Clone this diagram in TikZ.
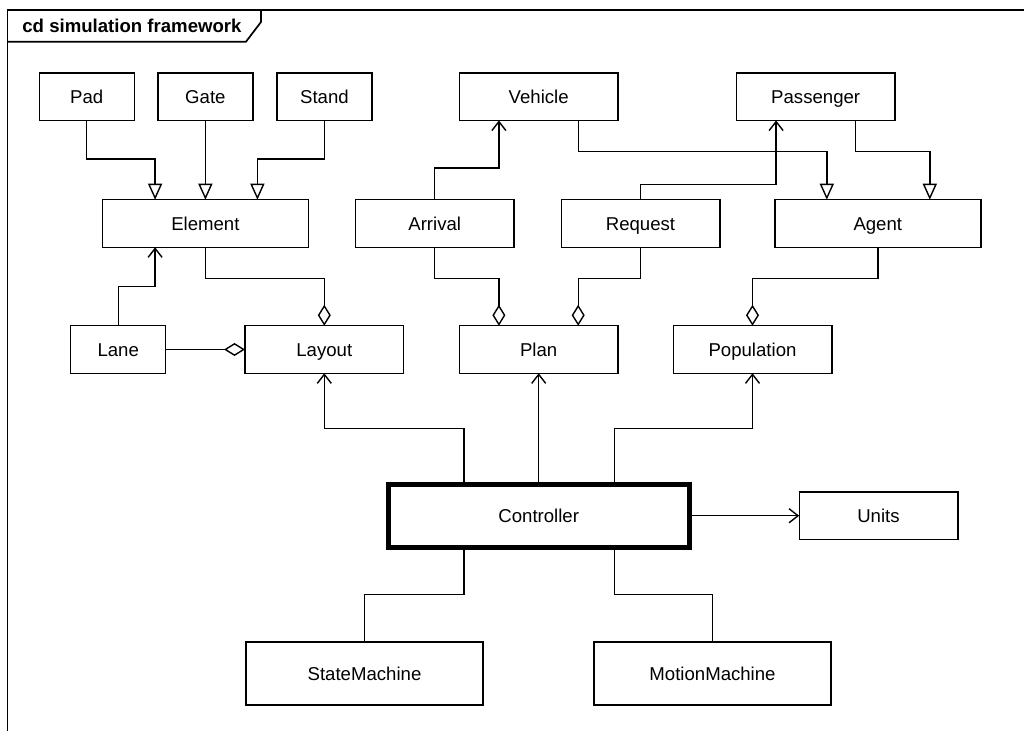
\documentclass[tikz,border=0pt]{standalone}
\usepackage{fontspec}
\setmainfont{Liberation Sans}
\usetikzlibrary{arrows.meta,positioning}

\begin{document}
\begin{tikzpicture}[x=0.5pt, y=-0.5pt,
  cls/.style={draw, line width=0.7pt, minimum height=23.75pt, minimum width=79.3pt, inner sep=0pt, outer sep=0pt,
    text height=6.7pt, text depth=0pt, font=\fontsize{9.3}{11}\selectfont},
  narrowcls/.style={cls, minimum width=47.5pt},
  widecls/.style={cls, minimum width=103pt},
  tallcls/.style={cls, minimum width=118.5pt, minimum height=31.65pt},
  ctrl/.style={cls, line width=2.5pt, minimum width=150.5pt, minimum height=31.5pt},
  gen/.style={line width=0.7pt, -{Triangle[length=8pt, width=7pt, fill=white]}},
  nav/.style={line width=0.7pt, -{Straight Barb[length=4.5pt, width=7pt]}},
  agg/.style={line width=0.7pt, -{Diamond[length=10.5pt, width=6.5pt, fill=white]}},
  link/.style={line width=0.7pt}
]
  \useasboundingbox (0,0) rectangle (1024,731);

  % diagram frame with its name tab
  \draw[line width=0.85pt] (7.5,731) -- (7.5,9.7) -- (1024,9.7);
  \draw[line width=0.85pt] (7.5,41.7) -- (246,41.7) -- (261,22) -- (261,9.7);
  \node[anchor=west, inner sep=0pt, font=\fontsize{9.3}{11}\selectfont\bfseries] (title) at (22,25.5) {cd simulation framework};

  % top row
  \node[narrowcls] (pad) at (86.7,96.7) {Pad};
  \node[narrowcls, right=11.85pt of pad] (gate) {Gate};
  \node[narrowcls, right=12pt of gate] (stand) {Stand};
  \node[cls, right=43.75pt of stand] (vehicle) {Vehicle};
  \node[cls, right=59.2pt of vehicle] (passenger) {Passenger};

  % second row
  \node[widecls, below=39.65pt of gate] (element) {Element};
  \node[cls, right=23.5pt of element] (arrival) {Arrival};
  \node[cls, right=23.6pt of arrival] (request) {Request};
  \node[widecls, right=27.5pt of request] (agent) {Agent};

  % third row, centred on Plan
  \node[cls, below=102.65pt of vehicle] (plan) {Plan};
  \node[cls, left=27.9pt of plan] (layout) {Layout};
  \node[narrowcls, left=39.65pt of layout] (lane) {Lane};
  \node[cls, right=27.6pt of plan] (population) {Population};

  % controller and what it uses
  \node[ctrl, below=55.5pt of plan] (controller) {Controller};
  \node[cls, right=55pt of controller] (units) {Units};
  \node[tallcls, below=47.3pt of controller, xshift=-87.1pt] (statemachine) {StateMachine};
  \node[tallcls, right=55.5pt of statemachine] (motionmachine) {MotionMachine};

  % generalisations
  \draw[gen] (pad.south) -- ++(0,38.6) -| ([xshift=-25.15pt]element.north);
  \draw[gen] (gate.south) -- (gate.south |- element.north);
  \draw[gen] (stand.south) -- ++(0,38.6) -| ([xshift=26pt]element.north);
  \draw[gen] ([xshift=19.75pt]vehicle.south) -- ++(0,31.3) -| ([xshift=-25.5pt]agent.north);
  \draw[gen] ([xshift=19.8pt]passenger.south) -- ++(0,31.3) -| ([xshift=26pt]agent.north);

  % associations
  \draw[nav] (arrival.north) -- ++(0,-31.6) -| ([xshift=-19.9pt]vehicle.south);
  \draw[nav] (request.north) -- ++(0,-15.4) -| ([xshift=-19.8pt]passenger.south);
  \draw[nav] (lane.north) -- ++(0,-39.3) -| ([xshift=-25.15pt]element.south);

  % aggregations
  \draw[agg] (element.south) -- ++(0,31.4) -| (layout.north);
  \draw[agg] (lane) -- (layout);
  \draw[agg] (arrival.south) -- ++(0,31.4) -| ([xshift=-19.9pt]plan.north);
  \draw[agg] (request.south) -- ++(0,31.4) -| ([xshift=19.75pt]plan.north);
  \draw[agg] (agent.south) -- ++(0,31.4) -| (population.north);

  % controller links
  \draw[nav] ([xshift=-37.4pt]controller.north) -- ++(0,-55.7) -| (layout.south);
  \draw[nav] (controller.north) -- (plan.south);
  \draw[nav] ([xshift=37.8pt]controller.north) -- ++(0,-55.7) -| (population.south);
  \draw[nav] (controller) -- (units);
  \draw[link] ([xshift=-37.4pt]controller.south) -- ++(0,47.3) -| (statemachine.north);
  \draw[link] ([xshift=37.8pt]controller.south) -- ++(0,47.3) -| (motionmachine.north);

\end{tikzpicture}
\end{document}
